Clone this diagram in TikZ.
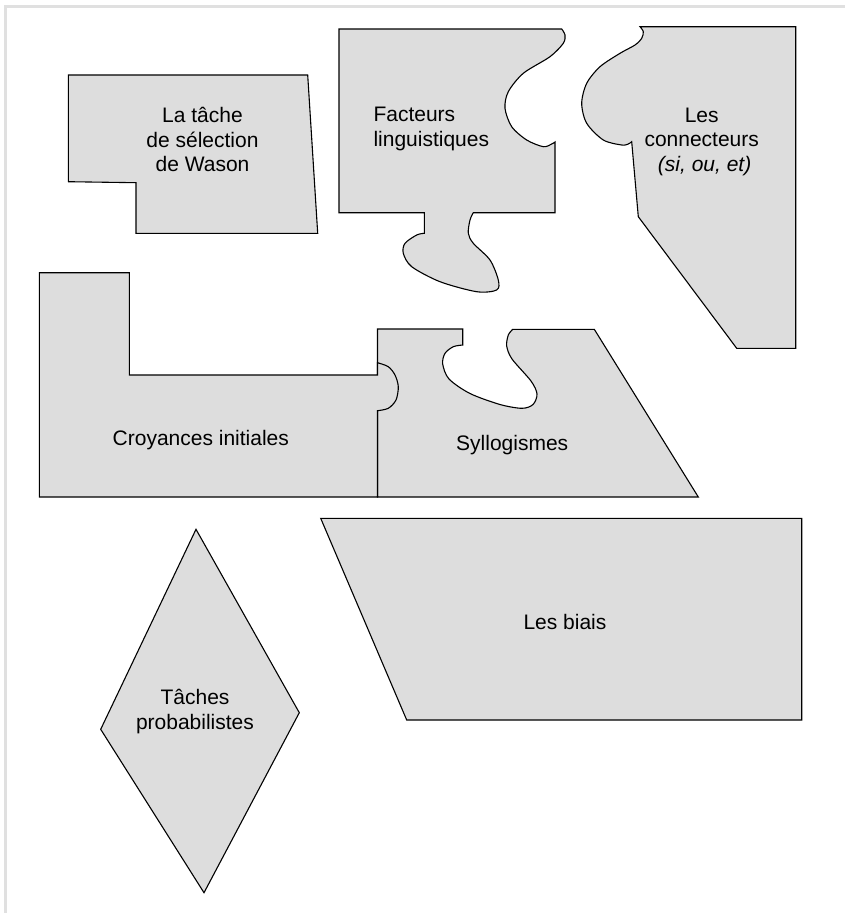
\documentclass[tikz,border=0pt]{standalone}
\usepackage{fontspec}
\setmainfont{Liberation Sans}
\definecolor{piecefill}{RGB}{221,221,221}
\definecolor{framegray}{RGB}{224,224,224}
\begin{document}
\begin{tikzpicture}[x=1pt,y=-1pt,
  piece/.style={fill=piecefill, draw=black, line width=1.1pt, line join=miter},
  lbl/.style={font=\fontsize{21}{24.5}\selectfont, inner sep=0pt, text=black},
]
\useasboundingbox (0,0) rectangle (845,913);
\draw[framegray, line width=3pt] (5,913) -- (5,6) -- (845,6);

% La tache de selection de Wason
\draw[piece] (68.3,75) -- (307.7,75) -- (317.7,233.3) -- (136,233.3) -- (136,182.7) -- (68.3,181.7) -- cycle;

% Facteurs linguistiques
\draw[piece] (339,29) -- (561.7,29)
  -- plot[smooth] coordinates {(561.7,29) (565,35) (563.3,43.3) (550,56.7) (523.3,73.3) (508.3,91.7) (505,108.3) (511.7,126.7) (526.7,140) (543.3,146.7) (551.7,144) (555,142)}
  -- (555,212.7) -- (473.3,212.7)
  -- plot[smooth] coordinates {(473.3,212.7) (470,220) (468.3,233.3) (473.3,243.3) (490,260) (498.3,280) (496.7,290) (476.7,291.7) (440,281.7) (411.7,266.7) (403.3,253.3) (405,243.3) (416.7,235) (424.3,233.3)}
  -- (424.3,212.7) -- (339,212.7) -- cycle;

% Les connecteurs
\draw[piece] (640,26.7) -- (795.7,26.7) -- (795.7,348.3) -- (736.7,348.3) -- (638.3,216.7) -- (631.7,141.7)
  -- plot[smooth] coordinates {(631.7,141.7) (628.3,144) (621.7,145) (603.3,140) (586.7,123.3) (581.7,103.3) (586.7,83.3) (600,66.7) (620,53.3) (635,45) (641.7,38.3) (643.3,31.7) (640,26.7)}
  -- cycle;

% Syllogismes
\draw[piece] (377.5,329) -- (462.7,329) -- (462.7,345)
  -- plot[smooth] coordinates {(462.7,345) (453.3,346.7) (445,353.3) (442.7,364) (449,379) (470,393.5) (500,404.5) (522,408.3) (533,404.5) (537,394) (531,381) (512,359) (506.7,346) (508.3,335) (512.7,329.3)}
  -- (594.3,329.3) -- (698.3,497) -- (377.5,497) -- cycle;

% Croyances initiales
\draw[piece] (39.3,272.7) -- (129.3,272.7) -- (129.3,375) -- (377.5,375) -- (377.5,362.7)
  -- plot[smooth] coordinates {(377.5,362.7) (388.3,366.7) (395,375) (398.3,386.7) (396,400) (388.3,408.3) (377.5,410.7)}
  -- (377.5,497) -- (39.3,497) -- cycle;

% Les biais
\draw[piece] (320.7,518.3) -- (801.7,518.3) -- (801.7,720) -- (406.7,720) -- cycle;

% Taches probabilistes
\draw[piece] (196,529.3) -- (299.3,712.7) -- (204,892.7) -- (100.7,729.3) -- cycle;

% Labels (base anchor of a multi-line node = baseline of its last line)
\node[lbl, align=center, anchor=base] (wason) at (202.5,171.7) {La tâche\\de sélection\\de Wason};
\node[lbl, align=left, anchor=base west] (facteurs) at (373.3,146.2) {Facteurs\\linguistiques};
\node[lbl, align=center, anchor=base] (connecteurs) at (701.7,171.2) {Les\\connecteurs\\\ \textit{(si, ou, et)}};
\node[lbl, anchor=base] (croyances) at (200.8,445) {Croyances initiales};
\node[lbl, anchor=base] (syllogismes) at (512.2,450.7) {Syllogismes};
\node[lbl, anchor=base] (biais) at (565,629.3) {Les biais};
\node[lbl, align=center, anchor=base] (taches) at (195,729) {Tâches\\probabilistes};
\end{tikzpicture}
\end{document}
